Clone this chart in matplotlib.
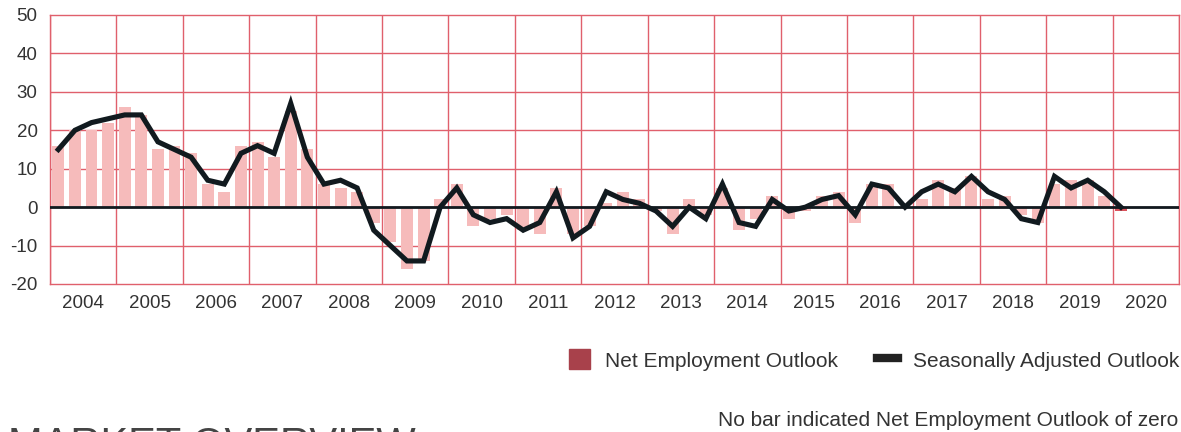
import matplotlib
matplotlib.use('Agg')
import matplotlib.pyplot as plt
from matplotlib.patches import Patch
from matplotlib.lines import Line2D

plt.rcParams['font.family'] = ['Liberation Sans', 'DejaVu Sans']
plt.rcParams['axes.unicode_minus'] = False

years = [str(y) for y in range(2004, 2021)]

# quarterly values, 2004 Q1 .. 2020 Q1
net_outlook = [16, 20, 20, 22, 26, 24, 15, 16, 14, 6, 4, 16, 17, 13, 25, 15,
               6, 5, 4, -4, -9, -16, -14, 2, 6, -5, -3, -2, -6, -7, 5, -7,
               -5, 1, 4, 2, -1, -7, 2, -2, 5, -6, -3, 3, -3, -1, 3, 4,
               -4, 6, 6, 0, 2, 7, 5, 8, 2, 3, -2, -4, 6, 7, 7, 3, -1]
seasonal = [15, 20, 22, 23, 24, 24, 17, 15, 13, 7, 6, 14, 16, 14, 27, 13,
            6, 7, 5, -6, -10, -14, -14, 0, 5, -2, -4, -3, -6, -4, 4, -8,
            -5, 4, 2, 1, -1, -5, 0, -3, 6, -4, -5, 2, -1, 0, 2, 3,
            -2, 6, 5, 0, 4, 6, 4, 8, 4, 2, -3, -4, 8, 5, 7, 4, 0]

grid_col = '#E0606C'
text_col = '#333333'

fig = plt.figure(figsize=(11.81, 4.32), dpi=100)
ax = fig.add_axes([50 / 1181, 148 / 432, 1129 / 1181, 269 / 432])

x = list(range(len(net_outlook)))
colors = ['#F6BBBB'] * (len(net_outlook) - 1) + ['#D9535C']
ax.bar(x, net_outlook, width=0.72, color=colors, zorder=2)

ax.set_xlim(-0.5, len(years) * 4 - 0.5)
ax.set_ylim(-20, 50)
ax.set_yticks(range(-20, 51, 10))

# year boundaries as grid, year names centred
for k in range(len(years) + 1):
    ax.axvline(k * 4 - 0.5, color=grid_col, lw=1, zorder=1)
for v in range(-10, 50, 10):
    ax.axhline(v, color=grid_col, lw=1, zorder=1)
ax.set_xticks([k * 4 + 1.5 for k in range(len(years))])
ax.set_xticklabels(years)

ax.axhline(0, color='#111a1f', lw=2, zorder=3)
ax.plot(x, seasonal, color='#111a1f', lw=3.7, zorder=4, solid_joinstyle='miter')

for s in ax.spines.values():
    s.set_color(grid_col)
    s.set_linewidth(1)
ax.tick_params(length=0, labelsize=13.5, colors=text_col, pad=8)
ax.tick_params(axis='y', pad=9)

handles = [Patch(color='#A8414B', label='Net Employment Outlook'),
           Line2D([], [], color='#222222', lw=6, label='Seasonally Adjusted Outlook')]
fig.legend(handles=handles, loc='center right', bbox_to_anchor=(1179 / 1181, 72 / 432),
           ncol=2, frameon=False, fontsize=15, handlelength=1.0, handleheight=1.1,
           columnspacing=1.9, handletextpad=0.7, labelcolor=text_col,
           borderpad=0, borderaxespad=0)

fig.text(1178 / 1181, 12 / 432, 'No bar indicated Net Employment Outlook of zero',
         ha='right', va='center', fontsize=15, color=text_col)
# section heading of the page below, only its top shows
fig.text(8 / 1181, -0.059, 'MARKET OVERVIEW', ha='left', va='baseline',
         fontsize=30, color='#444444')

fig.savefig('out.png', dpi=100)
